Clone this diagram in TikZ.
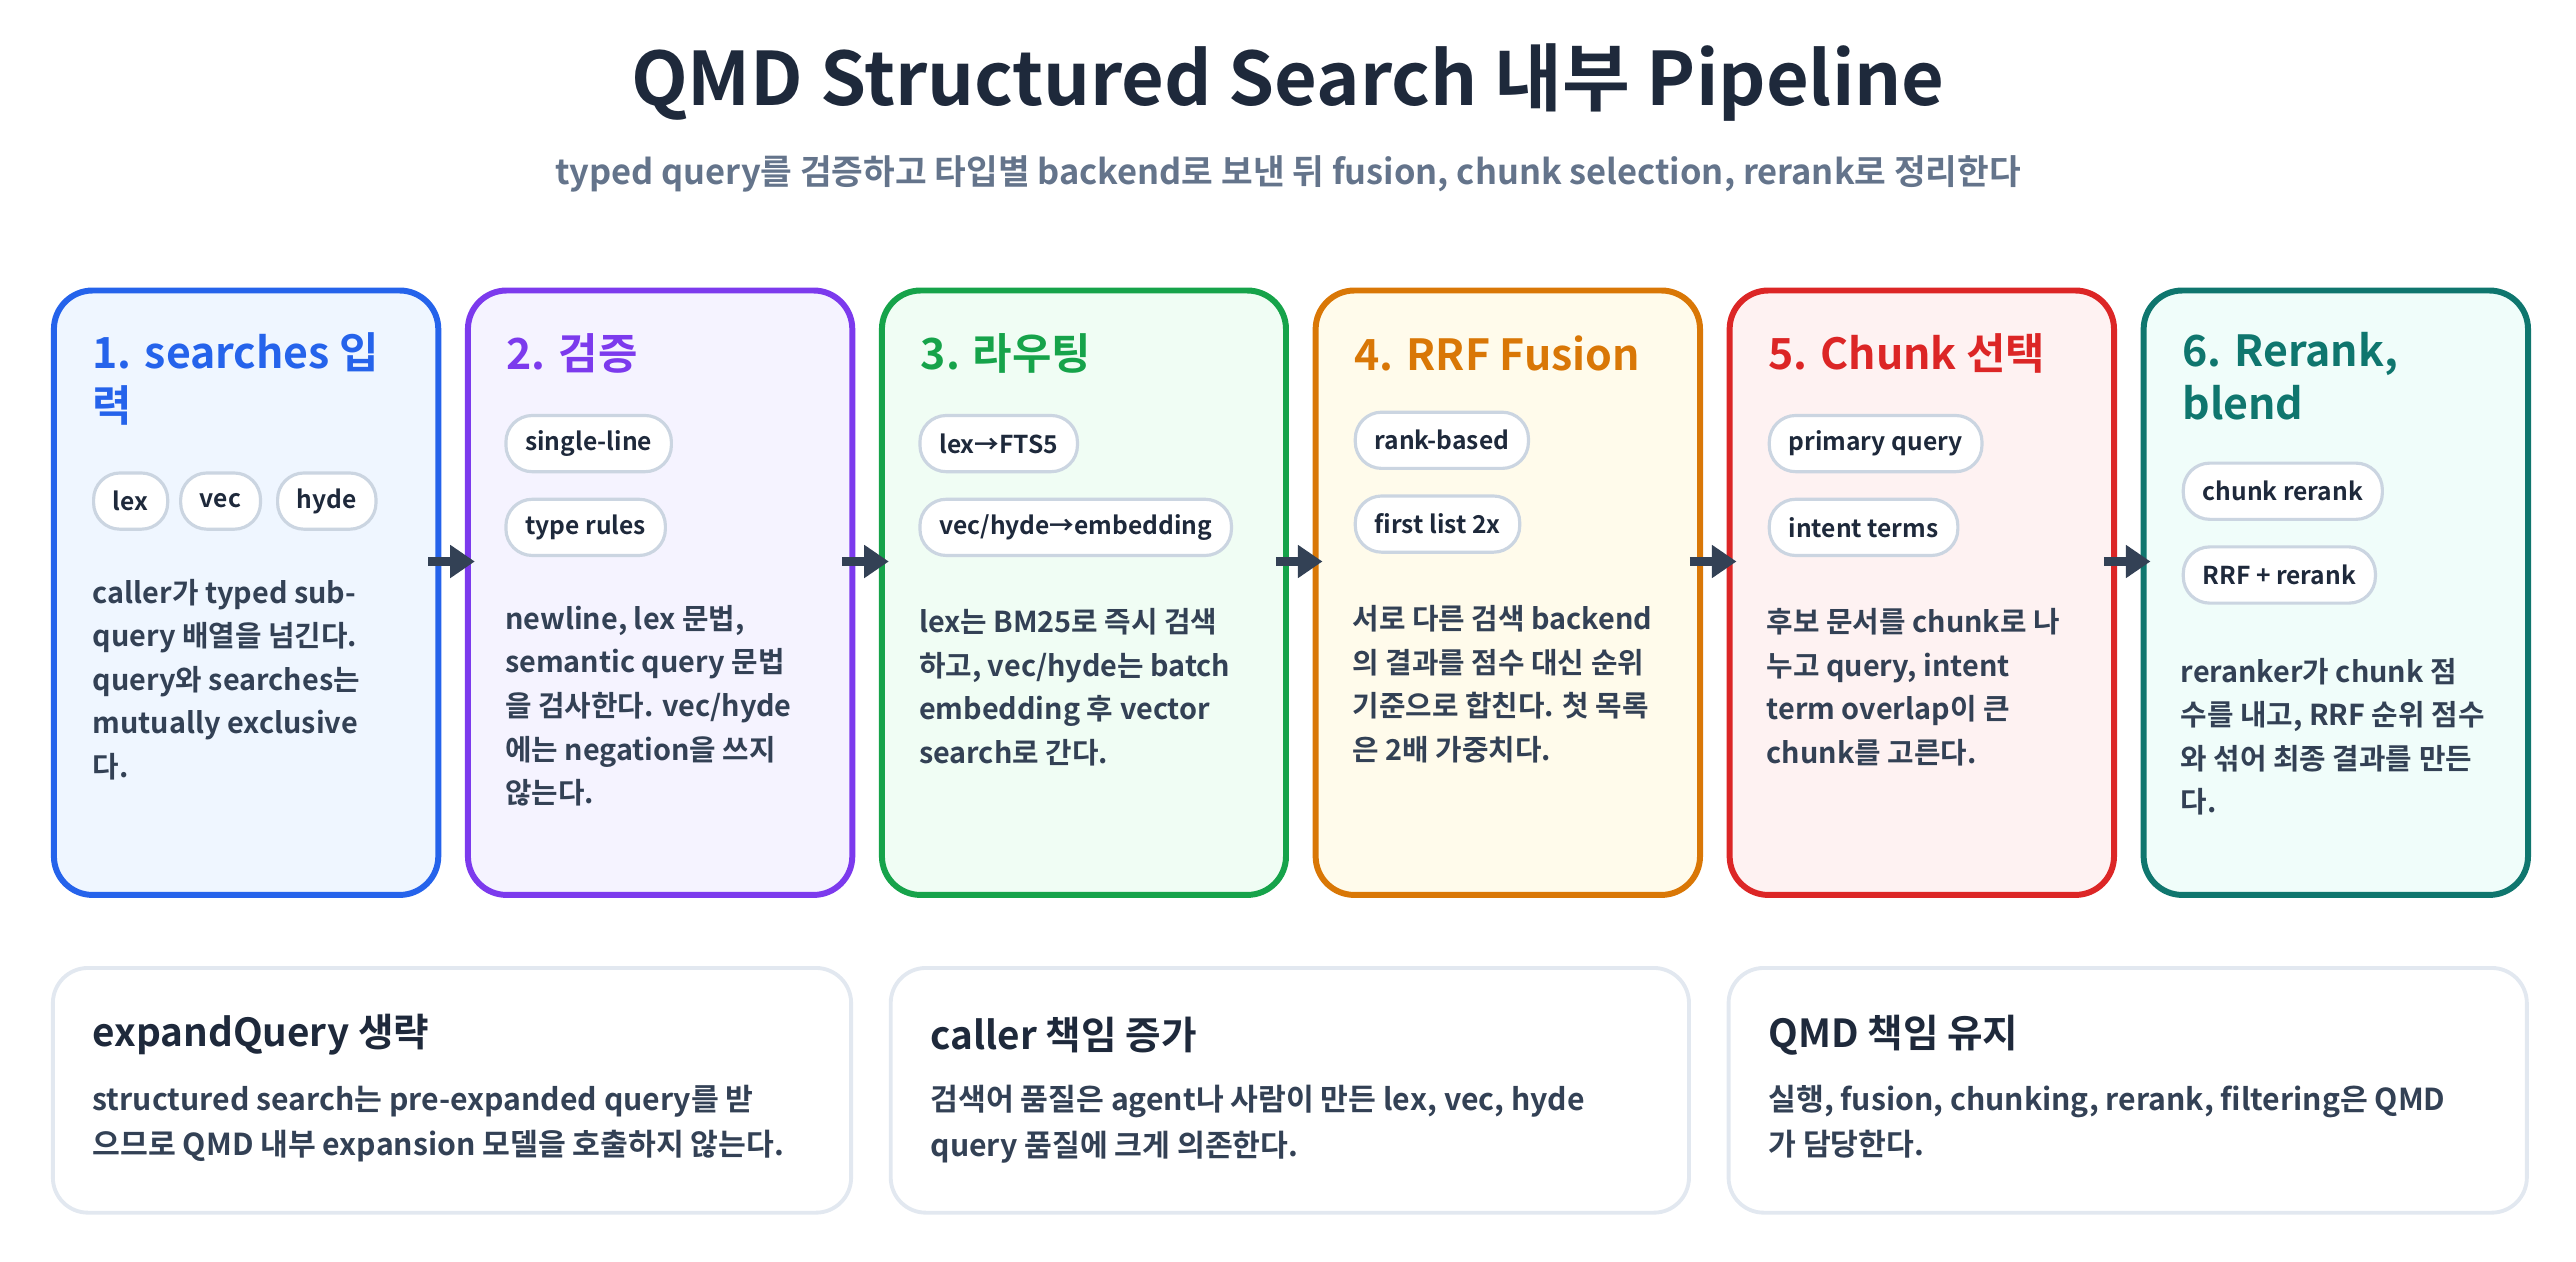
\documentclass[tikz,border=0pt]{standalone}
\usepackage{fontspec}
\setmainfont{Noto Sans CJK KR}[BoldFont={Noto Sans CJK KR Bold}]
\usetikzlibrary{arrows.meta}

\definecolor{ink}{HTML}{1E293B}
\definecolor{bodyink}{HTML}{334155}
\definecolor{subink}{HTML}{64748B}
\definecolor{pillgray}{HTML}{CBD5E1}
\definecolor{cardgray}{HTML}{E2E8F0}
\definecolor{cBlue}{HTML}{2563EB}   \definecolor{fBlue}{HTML}{EFF6FF}
\definecolor{cPurple}{HTML}{7C3AED} \definecolor{fPurple}{HTML}{F5F3FF}
\definecolor{cGreen}{HTML}{16A34A}  \definecolor{fGreen}{HTML}{F0FDF4}
\definecolor{cOrange}{HTML}{D97706} \definecolor{fOrange}{HTML}{FFFBEB}
\definecolor{cRed}{HTML}{DC2626}    \definecolor{fRed}{HTML}{FEF2F2}
\definecolor{cTeal}{HTML}{0F766E}   \definecolor{fTeal}{HTML}{F0FDFA}

\tikzset{
  stage/.style 2 args={draw=#1, fill=#2, line width=1.7pt, rounded corners=11pt,
    anchor=north west, minimum height=6.046cm, inner sep=0pt},
  card/.style={draw=cardgray, fill=white, line width=1.1pt, rounded corners=10pt,
    anchor=north west, minimum width=7.985cm, minimum height=2.448cm, inner sep=0pt},
  head/.style={anchor=west, font=\bfseries\fontsize{12.2}{15}\selectfont, text=#1,
    align=left, inner sep=0pt},
  pill/.style={draw=pillgray, fill=white, line width=0.9pt, rounded corners=7.5pt,
    minimum height=16pt, inner xsep=5.5pt, inner ysep=0pt, anchor=west,
    font=\bfseries\fontsize{7}{8}\selectfont, text=ink},
  body/.style={anchor=north west, align=left, inner sep=0pt, text=bodyink,
    font=\bfseries\fontsize{8.2}{12.4}\selectfont},
  flow/.style={line width=2.4pt, draw=bodyink, -{Triangle[length=7pt,width=9pt]}}
}

\begin{document}
\begin{tikzpicture}[x=0.01643cm, y=-0.01643cm]
    \useasboundingbox (0,0) rectangle (1568,768);

    % Title
    \node[font=\bfseries\fontsize{21}{24}\selectfont, text=ink] (title) at (784,50) {QMD Structured Search 내부 Pipeline};
    \node[font=\bfseries\fontsize{9.8}{12}\selectfont, text=subink] (subtitle) at (784,106) {typed query를 검증하고 타입별 backend로 보낸 뒤 fusion, chunk selection, rerank로 정리한다};

    % Stage boxes
    \node[stage={cBlue}{fBlue}, minimum width=3.845cm] (s1) at (31,175) {};
    \node[stage={cPurple}{fPurple}, minimum width=3.845cm] (s2) at (283,175) {};
    \node[stage={cGreen}{fGreen}, minimum width=4.042cm] (s3) at (535,175) {};
    \node[stage={cOrange}{fOrange}, minimum width=3.845cm] (s4) at (799,175) {};
    \node[stage={cRed}{fRed}, minimum width=3.845cm] (s5) at (1051,175) {};
    \node[stage={cTeal}{fTeal}, minimum width=3.845cm] (s6) at (1303,175) {};

    % Arrows between stages
    \draw[flow] ([shift={(-8,-19)}]s1.east) -- ([shift={(6,-19)}]s2.west);
    \draw[flow] ([shift={(-8,-19)}]s2.east) -- ([shift={(6,-19)}]s3.west);
    \draw[flow] ([shift={(-8,-19)}]s3.east) -- ([shift={(6,-19)}]s4.west);
    \draw[flow] ([shift={(-8,-19)}]s4.east) -- ([shift={(6,-19)}]s5.west);
    \draw[flow] ([shift={(-8,-19)}]s5.east) -- ([shift={(6,-19)}]s6.west);

    % 1. searches
    \node[head=cBlue, anchor=north west] (h1) at (56,202) {1. searches 입\\력};
    \node[pill] (p1a) at (56,305) {lex};
    \node[pill] (p1b) at (109,305) {vec};
    \node[pill] (p1c) at (168,305) {hyde};
    \node[body] (t1) at (56,352) {caller가 typed sub-\\query 배열을 넘긴다.\\query와 searches는\\mutually exclusive\\다.};

    % 2. validation
    \node[head=cPurple] (h2) at (308,215) {2. 검증};
    \node[pill] (p2a) at (307,270) {single-line};
    \node[pill] (p2b) at (307,321) {type rules};
    \node[body] (t2) at (307,368) {newline, lex 문법,\\semantic query 문법\\을 검사한다. vec/hyde\\에는 negation을 쓰지\\않는다.};

    % 3. routing
    \node[head=cGreen] (h3) at (560,215) {3. 라우팅};
    \node[pill] (p3a) at (559,270) {lex→FTS5};
    \node[pill] (p3b) at (559,321) {vec/hyde→embedding};
    \node[body] (t3) at (559,370) {lex는 BM25로 즉시 검색\\하고, vec/hyde는 batch\\embedding 후 vector\\search로 간다.};

    % 4. RRF fusion
    \node[head=cOrange] (h4) at (824,215) {4. RRF Fusion};
    \node[pill] (p4a) at (824,268) {rank-based};
    \node[pill] (p4b) at (824,319) {first list 2x};
    \node[body] (t4) at (823,368) {서로 다른 검색 backend\\의 결과를 점수 대신 순위\\기준으로 합친다. 첫 목록\\은 2배 가중치다.};

    % 5. chunk selection
    \node[head=cRed] (h5) at (1076,215) {5. Chunk 선택};
    \node[pill] (p5a) at (1076,270) {primary query};
    \node[pill] (p5b) at (1076,321) {intent terms};
    \node[body] (t5) at (1075,370) {후보 문서를 chunk로 나\\누고 query, intent\\term overlap이 큰\\chunk를 고른다.};

    % 6. rerank
    \node[head=cTeal, anchor=north west] (h6) at (1328,202) {6. Rerank,\\blend};
    \node[pill] (p6a) at (1328,299) {chunk rerank};
    \node[pill] (p6b) at (1328,350) {RRF + rerank};
    \node[body] (t6) at (1327,400) {reranker가 chunk 점\\수를 내고, RRF 순위 점수\\와 섞어 최종 결과를 만든\\다.};

    % Bottom notes
    \node[card] (n1) at (31,588) {};
    \node[card] (n2) at (541,588) {};
    \node[card] (n3) at (1051,588) {};
    \node[head=ink, font=\bfseries\fontsize{11}{13}\selectfont] (nh1) at (56,630) {expandQuery 생략};
    \node[head=ink, font=\bfseries\fontsize{11}{13}\selectfont] (nh2) at (566,630) {caller 책임 증가};
    \node[head=ink, font=\bfseries\fontsize{11}{13}\selectfont] (nh3) at (1076,630) {QMD 책임 유지};
    \node[body, font=\bfseries\fontsize{8.6}{13}\selectfont] (nt1) at (56,660) {structured search는 pre-expanded query를 받\\으므로 QMD 내부 expansion 모델을 호출하지 않는다.};
    \node[body, font=\bfseries\fontsize{8.6}{13}\selectfont] (nt2) at (566,660) {검색어 품질은 agent나 사람이 만든 lex, vec, hyde\\query 품질에 크게 의존한다.};
    \node[body, font=\bfseries\fontsize{8.6}{13}\selectfont] (nt3) at (1076,660) {실행, fusion, chunking, rerank, filtering은 QMD\\가 담당한다.};
\end{tikzpicture}
\end{document}
